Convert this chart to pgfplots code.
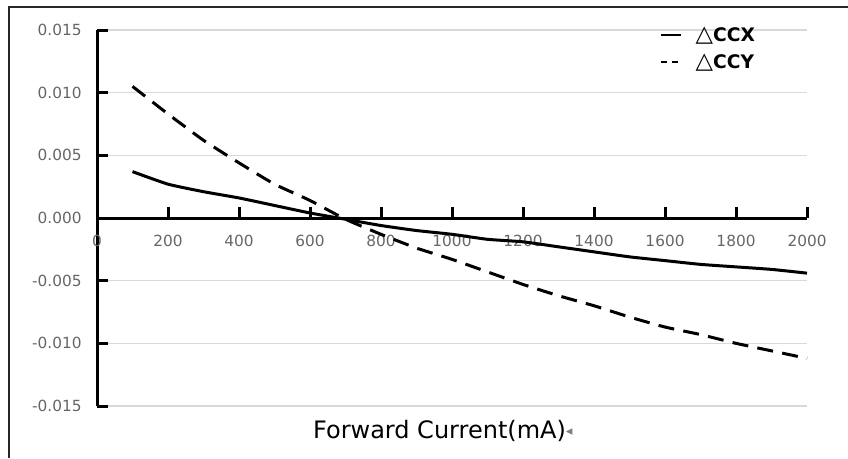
\documentclass[border=0pt]{standalone}
\usepackage{pgfplots}
\pgfplotsset{compat=1.18}
\usepackage{fontspec}
\setmainfont{DejaVu Sans}
\definecolor{gridgray}{HTML}{D9D9D9}
\definecolor{labgray}{HTML}{666666}
\begin{document}
\begin{tikzpicture}
\useasboundingbox (0,0) rectangle (636pt,343.5pt);
\draw[line width=1.4pt, black!85] (6.9pt,0pt) -- (6.9pt,338.3pt) -- (636pt,338.3pt);
\begin{axis}[
  at={(72.75pt,39pt)}, anchor=south west,
  scale only axis, width=532.5pt, height=282pt,
  xmin=0, xmax=2000, ymin=-0.015, ymax=0.015,
  axis x line=bottom, axis y line=left,
  axis x line shift=-141pt,
  axis line style={-, line width=2.25pt, black},
  scaled y ticks=false, scaled x ticks=false,
  xtick={0,200,...,2000},
  xticklabels={0,200,400,600,800,1000,1200,1400,1600,1800,2000},
  ytick={-0.015,-0.010,-0.005,0,0.005,0.010,0.015},
  yticklabels={-0.015,-0.010,-0.005,0.000,0.005,0.010,0.015},
  tick align=inside,
  major tick length=8pt,
  tick style={black, line width=2.25pt},
  ticklabel style={font=\fontsize{11.5}{13}\selectfont, text=labgray},
  yticklabel style={xshift=-8pt},
  xticklabel style={yshift=-9pt},
  ymajorgrids, grid style={gridgray, line width=0.8pt},
  clip=false,
  legend style={draw=none, fill=none, at={(axis cs:1585,0.0155)}, anchor=north west,
    font=\fontsize{14}{16}\selectfont\bfseries, row sep=4pt, column sep=8pt, inner sep=0pt},
  legend cell align=left,
]
\addplot[black, line width=2.25pt, smooth, tension=0.3,
  legend image code/.code={\draw[black, line width=1.8pt] (0pt,0pt) -- (15pt,0pt);}]
  coordinates {
  (100,0.0037) (200,0.0027) (300,0.0021) (400,0.0016) (500,0.0010)
  (600,0.0004) (700,-0.0001) (800,-0.0006) (900,-0.0010) (1000,-0.0013)
  (1100,-0.0017) (1200,-0.0019) (1300,-0.0023) (1400,-0.0027) (1500,-0.0031)
  (1600,-0.0034) (1700,-0.0037) (1800,-0.0039) (1900,-0.0041) (2000,-0.0044)};
\addlegendentry{{\mdseries\fontsize{17}{16}\selectfont △}CCX}
\addplot[black, line width=2.25pt, dash pattern=on 12pt off 7pt, smooth, tension=0.3,
  legend image code/.code={\draw[black, line width=1.6pt, dash pattern=on 4.5pt off 3.5pt] (0pt,0pt) -- (15pt,0pt);}]
  coordinates {
  (100,0.0105) (200,0.0083) (300,0.0062) (400,0.0044) (500,0.0027)
  (600,0.0014) (700,-0.0001) (800,-0.0013) (900,-0.0024) (1000,-0.0033)
  (1100,-0.0043) (1200,-0.0053) (1300,-0.0062) (1400,-0.0070) (1500,-0.0079)
  (1600,-0.0087) (1700,-0.0093) (1800,-0.0100) (1900,-0.0106) (2000,-0.0112)};
\addlegendentry{{\mdseries\fontsize{17}{16}\selectfont △}CCY}
\node[anchor=west, inner sep=0pt, font=\fontsize{18}{20}\selectfont] at (axis cs:608,-0.0170)
  {Forward Current(mA){\color{gray}\fontsize{10}{10}\selectfont\raisebox{2pt}{◂}}};
\end{axis}
\end{tikzpicture}
\end{document}
